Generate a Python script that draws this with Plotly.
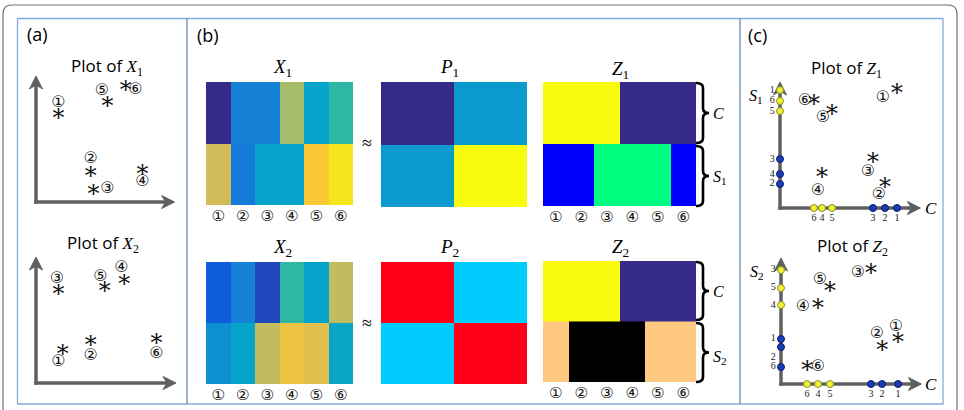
import plotly.graph_objects as go

W, H = 964, 410

# ---------------- data ----------------
circled = ["①", "②", "③", "④", "⑤", "⑥"]
numbers = ["1", "2", "3", "4", "5", "6"]

# (a) Plot of X1 : observations (*) and their circled labels
x1_star_x = [1.6, 3.9, 4.1, 7.6, 5.1, 6.4]
x1_star_y = [6.2, 2.1, 0.8, 2.2, 7.1, 8.2]
x1_lab_x = [1.6, 3.9, 5.1, 7.6, 4.7, 7.1]
x1_lab_y = [7.1, 3.1, 0.9, 1.4, 7.9, 8.0]

# (a) Plot of X2
x2_star_x = [1.9, 3.9, 1.6, 6.3, 4.9, 8.6]
x2_star_y = [2.3, 2.9, 6.6, 7.3, 6.8, 3.1]
x2_lab_x = [1.6, 3.9, 1.5, 6.1, 4.6, 8.6]
x2_lab_y = [1.5, 1.9, 7.4, 8.2, 7.6, 2.1]

# (b) matrices (rows: top, bottom; columns: samples 1..6)
X1 = [[0.00, 0.20, 0.20, 0.54, 0.30, 0.40],
      [0.60, 0.18, 0.30, 0.30, 0.69, 0.88]]
X2 = [[0.10, 0.20, 0.06, 0.40, 0.30, 0.58],
      [0.24, 0.30, 0.58, 0.66, 0.63, 0.31]]
P1 = [[0.00, 0.27],
      [0.27, 1.00]]
P2 = [[1, 0],
      [0, 1]]
Z1_C = [1, 1, 1, 0, 0, 0]
Z1_S = [0, 0, 1, 1, 1, 0]
Z2_C = [1, 1, 1, 0, 0, 0]
Z2_S = [1, 0, 0, 0, 1, 1]

# (c) Plot of Z1 : coordinates (C, S1) and label positions
z1_C = [9.75, 8.75, 7.75, 3.5, 4.33, 2.83]
z1_S = [9.83, 2.0, 4.08, 2.83, 8.08, 8.92]
z1_lab_x = [8.58, 8.25, 7.33, 3.17, 3.58, 2.08]
z1_lab_y = [9.17, 1.08, 3.0, 1.42, 7.5, 8.92]
z1_C_group = [0, 0, 0, 1, 1, 1]   # 1 = yellow, 0 = blue
z1_S_group = [1, 0, 0, 0, 1, 1]

# (c) Plot of Z2
z2_C = [9.75, 8.42, 7.5, 3.08, 4.08, 2.17]
z2_S = [3.75, 3.08, 9.5, 6.58, 8.0, 1.42]
z2_lab_x = [9.58, 8.0, 6.42, 1.83, 3.25, 3.08]
z2_lab_y = [4.75, 4.17, 9.25, 6.42, 8.67, 1.42]
z2_C_group = [0, 0, 0, 1, 1, 1]
z2_S_group = [0, 0, 1, 1, 1, 0]

# ---------------- styles ----------------
SERIF = "Liberation Serif"
SANS = "Open Sans"
CIRC_FONT = "DejaVu Sans"
STAR_FONT = "DejaVu Serif"
parula = [[0.0, '#352a87'], [0.1, '#0f5cdd'], [0.2, '#1481d6'], [0.3, '#06a4ca'],
          [0.4, '#2eb7a4'], [0.5, '#87bf77'], [0.6, '#d1bb59'], [0.7, '#fec832'],
          [0.8, '#f5d923'], [0.9, '#f5e81c'], [1.0, '#f9fb0e']]
winter = [[0, '#0000ff'], [1, '#00ff80']]
copper = [[0, '#000000'], [1, '#ffc880']]
redcyan = [[0, '#00ccff'], [1, '#ff0018']]
YEL, YEL_L = '#eef03a', '#8f9020'
BLU, BLU_L = '#1c3cb4', '#0c1c70'
ARROW = '#606060'

fig = go.Figure()
layout = dict(width=W, height=H, margin=dict(l=0, r=0, t=0, b=0),
              paper_bgcolor='white', plot_bgcolor='rgba(0,0,0,0)', showlegend=False)

# base pixel axis
layout['xaxis'] = dict(domain=[0, 1], range=[0, W], visible=False, fixedrange=True)
layout['yaxis'] = dict(domain=[0, 1], range=[H, 0], visible=False, fixedrange=True)
fig.add_trace(go.Scatter(x=[0], y=[0], mode='markers', marker=dict(opacity=0),
                         xaxis='x', yaxis='y', hoverinfo='skip'))

shapes, annotations = [], []


def xdom(a, b):
    return [a / W, b / W]


def ydom(top, bottom):
    return [1 - bottom / H, 1 - top / H]


axis_n = [1]


def new_axes(xd, yd, xr, yr, xkw=None, ykw=None):
    axis_n[0] += 1
    n = axis_n[0]
    xa = dict(domain=xd, range=xr, visible=False, fixedrange=True, anchor=f'y{n}')
    ya = dict(domain=yd, range=yr, visible=False, fixedrange=True, anchor=f'x{n}')
    if xkw:
        xa.update(xkw)
    if ykw:
        ya.update(ykw)
    layout[f'xaxis{n}'] = xa
    layout[f'yaxis{n}'] = ya
    return f'x{n}', f'y{n}'


def txt(x, y, text, size, family=SANS, color='black', xanchor='center'):
    annotations.append(dict(x=x, y=y, xref='x', yref='y', text=text, showarrow=False,
                            font=dict(size=size, family=family, color=color),
                            xanchor=xanchor, yanchor='middle'))


def arrows(ox, oy, s, xtip, ytip):
    tx = ox + s * xtip
    ty = oy - s * ytip
    shapes.append(dict(type='line', xref='x', yref='y', x0=ox, y0=oy + 1.7, x1=ox, y1=ty + 8,
                       line=dict(color=ARROW, width=3.5), layer='below'))
    shapes.append(dict(type='line', xref='x', yref='y', x0=ox - 1.7, y0=oy, x1=tx - 8, y1=oy,
                       line=dict(color=ARROW, width=3.5), layer='below'))
    shapes.append(dict(type='path', xref='x', yref='y', layer='below',
                       path=f'M {ox},{ty} L {ox-6.5},{ty+13} L {ox},{ty+9} L {ox+6.5},{ty+13} Z',
                       fillcolor=ARROW, line=dict(color=ARROW, width=1)))
    shapes.append(dict(type='path', xref='x', yref='y', layer='below',
                       path=f'M {tx},{oy} L {tx-13},{oy-6.5} L {tx-9},{oy} L {tx-13},{oy+6.5} Z',
                       fillcolor=ARROW, line=dict(color=ARROW, width=1)))


def scatter_panel(ox, oy, s, xr, yr, sx, sy, lx, ly, xtip, ytip):
    xa, ya = new_axes(xdom(ox, ox + s * xr), ydom(oy - s * yr, oy), [0, xr], [0, yr])
    arrows(ox, oy, s, xtip, ytip)
    fig.add_trace(go.Scatter(x=sx, y=sy, mode='text', text=['∗'] * len(sx),
                             textfont=dict(family=STAR_FONT, size=24, color='#111'),
                             xaxis=xa, yaxis=ya, hoverinfo='skip', cliponaxis=False))
    fig.add_trace(go.Scatter(x=lx, y=ly, mode='text', text=circled,
                             textfont=dict(family=CIRC_FONT, size=16, color='#111'),
                             xaxis=xa, yaxis=ya, hoverinfo='skip', cliponaxis=False))
    return xa, ya


# ---------------- panel (a) ----------------
scatter_panel(36, 202, 14, 10.5, 9.5, x1_star_x, x1_star_y, x1_lab_x, x1_lab_y, 9.9, 9.0)
scatter_panel(36, 383, 14, 10.5, 9.5, x2_star_x, x2_star_y, x2_lab_x, x2_lab_y, 10.0, 9.0)


def plot_title(x, y, letter, sub):
    txt(x, y, f'Plot of <span style="font-family:{SERIF}"><i>{letter}</i><sub>{sub}</sub></span>', 17)


plot_title(107, 66, 'X', '1')
plot_title(103, 243, 'X', '2')

# ---------------- panel (b) heatmaps ----------------
def heat_axes(x0, x1, top, bottom, ncols, ticks=True):
    xkw = dict(visible=True, showgrid=False, zeroline=False, showline=False, ticks='',
               showticklabels=ticks, tickvals=list(range(ncols)),
               ticktext=circled if ticks else None,
               tickfont=dict(family=CIRC_FONT, size=15, color='#111'))
    return new_axes(xdom(x0, x1), ydom(top, bottom), [-0.5, ncols - 0.5], [1.5, -0.5], xkw=xkw)


def heat(z, ys, cs, xa, ya):
    fig.add_trace(go.Heatmap(z=z, x=list(range(len(z[0]))), y=ys, colorscale=cs, zmin=0, zmax=1,
                             showscale=False, xaxis=xa, yaxis=ya, hoverinfo='skip'))


xa, ya = heat_axes(206, 353, 82, 205, 6)
heat(X1, [0, 1], parula, xa, ya)
xa, ya = heat_axes(381, 527, 82, 207, 2, ticks=False)
heat(P1, [0, 1], parula, xa, ya)
xa, ya = heat_axes(543, 696, 82, 206, 6)
heat([Z1_C], [0], parula, xa, ya)
heat([Z1_S], [1], winter, xa, ya)

xa, ya = heat_axes(206, 353, 262, 384, 6)
heat(X2, [0, 1], parula, xa, ya)
xa, ya = heat_axes(381, 527, 262, 384, 2, ticks=False)
heat(P2, [0, 1], redcyan, xa, ya)
xa, ya = heat_axes(543, 696, 261, 382, 6)
heat([Z2_C], [0], parula, xa, ya)
heat([Z2_S], [1], copper, xa, ya)


def mat_title(x, y, letter, sub):
    txt(x, y, f'<i>{letter}</i><sub>{sub}</sub>', 19, family=SERIF)


mat_title(282, 68, 'X', '1')
mat_title(449, 68, 'P', '1')
mat_title(620, 70, 'Z', '1')
mat_title(282, 248, 'X', '2')
mat_title(449, 248, 'P', '2')
mat_title(620, 248, 'Z', '2')
txt(367, 143, '≈', 18, family=SERIF)
txt(367, 323, '≈', 18, family=SERIF)


def brace(x, top, bottom):
    mid = (top + bottom) / 2
    r = 5
    shapes.append(dict(type='path', xref='x', yref='y', layer='above',
                       line=dict(color='black', width=2.6),
                       path=(f'M {x-7},{top} Q {x},{top} {x},{top+r} L {x},{mid-r} '
                             f'Q {x},{mid} {x+6},{mid} Q {x},{mid} {x},{mid+r} '
                             f'L {x},{bottom-r} Q {x},{bottom} {x-7},{bottom}')))


brace(703, 83, 143)
brace(703, 146, 206)
brace(703, 262, 320)
brace(703, 323, 382)
txt(711, 113, '<i>C</i>', 16, family=SERIF, xanchor='left')
txt(711, 177, '<i>S</i><sub>1</sub>', 16, family=SERIF, xanchor='left')
txt(711, 291, '<i>C</i>', 16, family=SERIF, xanchor='left')
txt(711, 357, '<i>S</i><sub>2</sub>', 16, family=SERIF, xanchor='left')

# ---------------- panel (c) ----------------
def c_panel(ox, oy, C, S, lx, ly, cg, sg, spos):
    xa, ya = scatter_panel(ox, oy, 12, 12, 10.8, C, S, lx, ly, 11.7, 10.5)
    for vals, grp, axis in ((C, cg, 'C'), (S, sg, 'S')):
        cols = [YEL if g else BLU for g in grp]
        lcols = [YEL_L if g else BLU_L for g in grp]
        if axis == 'C':
            xs, ys, pos = vals, [0] * 6, ['bottom center'] * 6
        else:
            xs, ys, pos = [0] * 6, vals, spos
        fig.add_trace(go.Scatter(x=xs, y=ys, mode='markers+text', text=numbers,
                                 textposition=pos,
                                 textfont=dict(family=SERIF, size=10, color='#222'),
                                 marker=dict(size=7, color=cols, line=dict(color=lcols, width=1)),
                                 xaxis=xa, yaxis=ya, hoverinfo='skip', cliponaxis=False))


c_panel(780, 208, z1_C, z1_S, z1_lab_x, z1_lab_y, z1_C_group, z1_S_group, ['middle left'] * 6)
c_panel(781, 384, z2_C, z2_S, z2_lab_x, z2_lab_y, z2_C_group, z2_S_group,
        ['middle left', 'bottom left', 'middle left', 'middle left', 'middle left', 'middle left'])
plot_title(846, 68, 'Z', '1')
plot_title(852, 246, 'Z', '2')
txt(923, 208, '<i>C</i>', 17, family=SERIF, xanchor='left')
txt(923, 384, '<i>C</i>', 17, family=SERIF, xanchor='left')
txt(756, 96, '<i>S</i><sub>1</sub>', 16, family=SERIF)
txt(757, 272, '<i>S</i><sub>2</sub>', 16, family=SERIF)

# panel labels
txt(37, 34, '(a)', 18)
txt(208, 35, '(b)', 18)
txt(757, 35, '(c)', 18)

# frames
shapes.append(dict(type='path', xref='x', yref='y', layer='above',
                   line=dict(color='#707070', width=1.2),
                   path='M 3,440 L 3,14 Q 3,5 12,5 L 948,5 Q 957,5 957,14 L 957,440'))
shapes.append(dict(type='rect', xref='x', yref='y', x0=17.5, y0=18.5, x1=943, y1=404,
                   line=dict(color='#86acdc', width=1.3), layer='above'))
for xv in (187, 740):
    shapes.append(dict(type='line', xref='x', yref='y', x0=xv, y0=18.5, x1=xv, y1=404,
                       line=dict(color='#6c8bb3', width=1.3), layer='above'))

layout['shapes'] = shapes
layout['annotations'] = annotations
fig.update_layout(**layout)
fig.write_html("out.html")
